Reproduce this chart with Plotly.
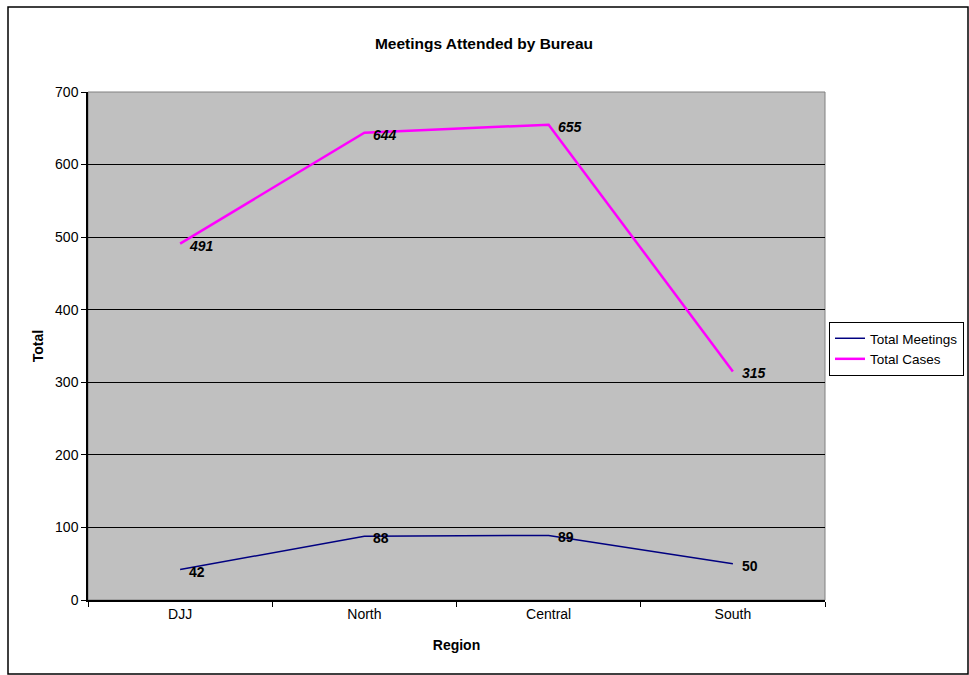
import plotly.graph_objects as go

regions = ["DJJ", "North", "Central", "South"]
total_meetings = [42, 88, 89, 50]
total_cases = [491, 644, 655, 315]

W, H = 969, 675
L, R, T, B = 88, 144, 92, 75
pw, ph = W - L - R, H - T - B


def px_x(x):
    return (x - L) / pw


def px_y(y):
    return (H - B - y) / ph


fig = go.Figure()
fig.add_trace(go.Scatter(
    x=regions, y=total_meetings, name="Total Meetings", mode="lines",
    line=dict(color="#000080", width=1.5),
))
fig.add_trace(go.Scatter(
    x=regions, y=total_cases, name="Total Cases", mode="lines",
    line=dict(color="#FF00FF", width=2.5),
))

# data labels to the right of each point
for xs, ys, fmt in [(regions, total_meetings, "<b>{}</b>"),
                    (regions, total_cases, "<b><i>{}</i></b>")]:
    for xv, yv in zip(xs, ys):
        fig.add_annotation(x=xv, y=yv, text=fmt.format(yv), showarrow=False,
                           xanchor="left", yanchor="middle", xshift=7, yshift=-2,
                           font=dict(size=14, color="black"))

fig.update_layout(
    width=W, height=H,
    margin=dict(l=L, r=R, t=T, b=B, autoexpand=False),
    paper_bgcolor="white", plot_bgcolor="#C0C0C0",
    font=dict(family="Liberation Sans", size=14, color="black"),
    title=dict(text="<b>Meetings Attended by Bureau</b>", x=484 / W, xanchor="center",
               y=1 - 44 / H, yanchor="middle", font=dict(size=15.5)),
    legend=dict(x=px_x(829), y=px_y(322), xanchor="left", yanchor="top",
                bordercolor="black", borderwidth=1, bgcolor="white",
                font=dict(size=13.5), tracegroupgap=0, itemwidth=30),
    showlegend=True,
)
fig.update_xaxes(
    title=dict(text="<b>Region</b>", standoff=20, font=dict(size=14)),
    range=[-0.5, 3.5], showgrid=False, ticks="outside", tickson="boundaries",
    ticklen=5, tickcolor="black", showline=True, linecolor="black", linewidth=1.5,
    mirror=False, zeroline=False,
)
fig.update_yaxes(
    title=dict(text="<b>Total</b>", standoff=8, font=dict(size=14)),
    range=[0, 700], dtick=100, showgrid=True, gridcolor="black", gridwidth=1,
    ticks="outside", ticklen=5, tickcolor="black", showline=True, linecolor="black",
    linewidth=1.5, zeroline=False,
)
# plot area top/right edge
fig.add_shape(type="rect", xref="paper", yref="paper", x0=0, x1=1, y0=0, y1=1,
              line=dict(color="#808080", width=1), layer="below")
# outer chart border
fig.add_shape(type="rect", xref="paper", yref="paper",
              x0=px_x(8), x1=px_x(968), y0=px_y(674), y1=px_y(7),
              line=dict(color="black", width=1.5))

# drop the default 8px body margin so the figure fills the window
fig.write_html("out.html", config={"displayModeBar": False},
               post_script="document.body.style.margin='0';")
